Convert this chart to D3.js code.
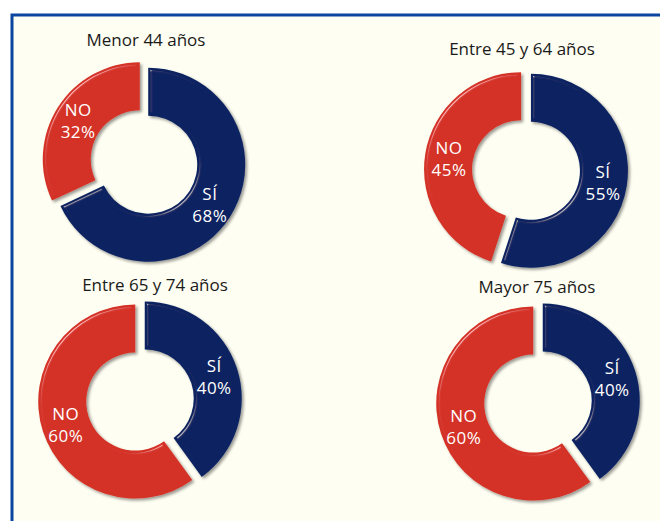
<!DOCTYPE html>
<html>
<head>
<meta charset="utf-8">
<script src="https://cdn.jsdelivr.net/npm/d3@7"></script>
<style>
  body { margin: 0; background: #ffffff; }
  svg { display: block; }
  text { font-family: "Open Sans", "Noto Sans", sans-serif; }
</style>
</head>
<body>
<div id="chart"></div>
<script>
// data
var groups = ["Menor 44 años", "Entre 45 y 64 años", "Entre 65 y 74 años", "Mayor 75 años"];
var answers = ["SÍ", "NO"];
var siValues = [68, 55, 40, 40];
var noValues = [32, 45, 60, 60];

var width = 660, height = 521;

// where each doughnut sits in the frame
var cells = [
  {cx: 144, cy: 162, tx: 146, ty: 46},
  {cx: 526, cy: 170, tx: 522, ty: 55},
  {cx: 140, cy: 400, tx: 155, ty: 291},
  {cx: 538, cy: 402, tx: 537, ty: 293}
];

var outerR = 97, innerR = 49, explode = 5;

var color = d3.scaleOrdinal()
  .domain(answers)
  .range(["#0a2260", "#d43226"]);

var svg = d3.select("#chart")
  .append("svg")
  .attr("width", width)
  .attr("height", height);

var defs = svg.append("defs");

// soft bevel + shadow, like the office chart
var f = defs.append("filter")
  .attr("id", "bevel")
  .attr("x", "-20%").attr("y", "-20%")
  .attr("width", "140%").attr("height", "140%");
f.append("feGaussianBlur").attr("in", "SourceAlpha").attr("stdDeviation", 1.5).attr("result", "blur");
f.append("feSpecularLighting")
  .attr("in", "blur").attr("surfaceScale", 2.5)
  .attr("specularConstant", 0.45).attr("specularExponent", 70)
  .attr("lighting-color", "#ffffff").attr("result", "spec")
  .append("feDistantLight").attr("azimuth", 225).attr("elevation", 45);
f.append("feComposite").attr("in", "spec").attr("in2", "SourceAlpha").attr("operator", "in").attr("result", "specOut");
f.append("feComposite").attr("in", "SourceGraphic").attr("in2", "specOut")
  .attr("operator", "arithmetic").attr("k1", 0).attr("k2", 1).attr("k3", 1).attr("k4", 0).attr("result", "lit");
f.append("feGaussianBlur").attr("in", "SourceAlpha").attr("stdDeviation", 1.5).attr("result", "sblur");
f.append("feOffset").attr("in", "sblur").attr("dx", 1.5).attr("dy", 2).attr("result", "soff");
f.append("feComponentTransfer").attr("in", "soff").attr("result", "shadow")
  .append("feFuncA").attr("type", "linear").attr("slope", 0.4);
var fm = f.append("feMerge");
fm.append("feMergeNode").attr("in", "shadow");
fm.append("feMergeNode").attr("in", "lit");

// frame
svg.append("rect")
  .attr("x", 12).attr("y", 15)
  .attr("width", width + 20).attr("height", height + 20)
  .attr("fill", "#fefef2")
  .attr("stroke", "#0a45a0")
  .attr("stroke-width", 3);

var pie = d3.pie().sort(null).value(function(d){ return d.value; });
var arc = d3.arc().innerRadius(innerR).outerRadius(outerR);
var labelArc = d3.arc().innerRadius((innerR + outerR) / 2).outerRadius((innerR + outerR) / 2);

groups.forEach(function(name, i){
  var cell = cells[i];
  var rows = [
    {name: answers[0], value: siValues[i]},
    {name: answers[1], value: noValues[i]}
  ];
  var arcs = pie(rows);

  svg.append("text")
    .attr("x", cell.tx).attr("y", cell.ty)
    .attr("text-anchor", "middle")
    .attr("font-size", "17px")
    .attr("fill", "#1a1a1a")
    .text(name);

  var g = svg.append("g")
    .attr("transform", "translate(" + cell.cx + "," + cell.cy + ")");

  var slice = g.selectAll("g.slice")
    .data(arcs)
    .enter()
    .append("g")
      .attr("class", "slice")
      .attr("transform", function(d){
        var a = (d.startAngle + d.endAngle) / 2;
        return "translate(" + (Math.sin(a) * explode) + "," + (-Math.cos(a) * explode) + ")";
      });

  slice.append("path")
    .attr("d", arc)
    .attr("fill", function(d){ return color(d.data.name); })
    .attr("filter", "url(#bevel)");

  var lab = slice.append("text")
    .attr("transform", function(d){ return "translate(" + labelArc.centroid(d) + ")"; })
    .attr("text-anchor", "middle")
    .attr("font-size", "17px")
    .attr("letter-spacing", "0.5px")
    .attr("fill", "#ffffff");
  lab.append("tspan").attr("x", 0).attr("y", -4).text(function(d){ return d.data.name; });
  lab.append("tspan").attr("x", 0).attr("y", 18).text(function(d){ return d.data.value + "%"; });
});
</script>
</body>
</html>
